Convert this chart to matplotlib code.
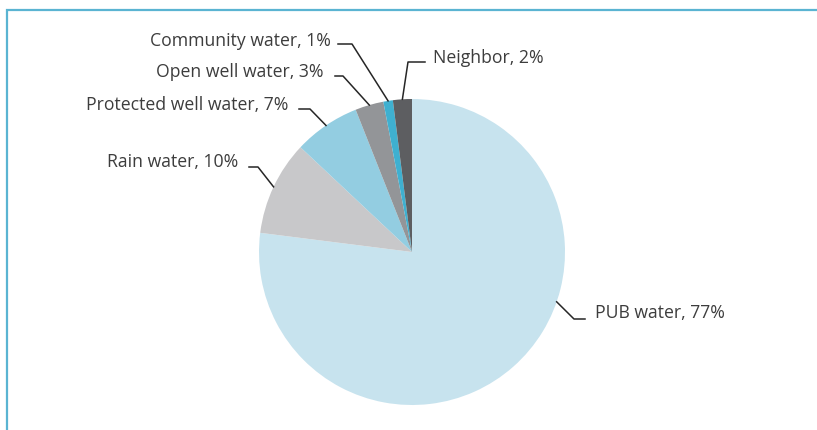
import numpy as np
import matplotlib.pyplot as plt

# データ
labels = ['PUB water', 'Rain water', 'Protected well water', 'Open well water',
          'Community water', 'Neighbor']
values = [77, 10, 7, 3, 1, 2]
colors = ['#c7e3ee', '#c8c8ca', '#93cde1', '#939598', '#3fb0d0', '#5d5e61']

# 位置 (pixel, y down): text x, text y, elbow x (outer, inner), elbow y, anchor angle
label_pos = {
    'PUB water':            dict(tx=595, ty=313, ex=(585, 574), ey=320, ha='left', ang=-19),
    'Rain water':           dict(tx=238, ty=162, ex=(249, 258), ey=168, ha='right', ang=None),
    'Protected well water': dict(tx=288, ty=105, ex=(299, 310), ey=110, ha='right', ang=None),
    'Open well water':      dict(tx=324, ty=72,  ex=(335, 343), ey=77,  ha='right', ang=None),
    'Community water':      dict(tx=331, ty=41,  ex=(338, 352), ey=45,  ha='right', ang=None),
    'Neighbor':             dict(tx=433, ty=58,  ex=(425, 408), ey=63,  ha='left', ang=None),
}

W, H = 817, 431
cx, cy, r = 412, 253, 153

plt.rcParams['font.family'] = ['Open Sans', 'DejaVu Sans']
fig = plt.figure(figsize=(W / 100, H / 100), dpi=100)
ax = fig.add_axes([0, 0, 1, 1])

wedges, _ = ax.pie(values, colors=colors, startangle=90, counterclock=False,
                   center=(cx, H - cy), radius=r, frame=True,
                   wedgeprops=dict(linewidth=0))
ax.set_xlim(0, W)
ax.set_ylim(0, H)
ax.set_aspect('equal')
ax.axis('off')

# 枠線
ax.plot([7, 7, W + 5], [-5, H - 11, H - 11], color='#5ab4d2', lw=1.6,
        solid_joinstyle='miter', clip_on=False)

# ラベルと引き出し線
for w, lab, v in zip(wedges, labels, values):
    p = label_pos[lab]
    ang = p['ang'] if p['ang'] is not None else (w.theta1 + w.theta2) / 2
    axp = cx + r * np.cos(np.radians(ang))
    ayp = H - cy + r * np.sin(np.radians(ang))
    xs = [axp, p['ex'][1], p['ex'][0]]
    ys = [ayp, H - p['ey'], H - p['ey']]
    ax.plot(xs, ys, color='#262626', lw=1.1)
    ax.text(p['tx'], H - p['ty'], f'{lab}, {v}%', ha=p['ha'], va='center',
            fontsize=12.7, color='#3d3d3d')

fig.savefig('out.png', dpi=100)
